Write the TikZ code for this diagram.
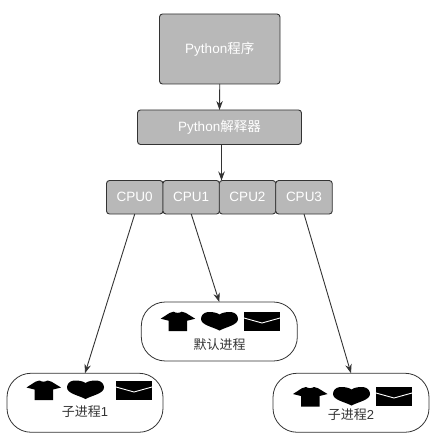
\documentclass[tikz,border=0pt]{standalone}
\usepackage{fontspec}
\setmainfont{Liberation Sans}
\newfontfamily\cjkf{Noto Sans CJK SC}
\usetikzlibrary{arrows.meta}
\definecolor{boxfill}{HTML}{B8B8B8}
\definecolor{edge}{HTML}{333333}
\tikzset{
  graybox/.style={draw=edge,fill=boxfill,line width=0.9pt,rounded corners=3pt,inner sep=0pt,outer sep=0pt,text=white,font=\fontsize{13.5}{15}\selectfont,anchor=center},
  procbox/.style={draw=edge,fill=white,line width=0.8pt,rounded corners=24pt,inner sep=0pt,outer sep=0pt,minimum width=156pt,minimum height=59pt},
  proclabel/.style={text=edge,font=\fontsize{13}{15}\selectfont,inner sep=0pt},
  link/.style={draw=edge,line width=0.9pt,-{Stealth[length=9pt,width=6.5pt]}},
  shirt/.pic={\fill[black] (0,7) -- (9,1.2) -- (13,0) .. controls (15,1.5) and (19,1.5) .. (21,0) -- (25,1.2) -- (34.5,7) -- (26.5,9) -- (26.5,19.5) -- (8,19.5) -- (8,9) -- cycle;},
  heartshape/.pic={\fill[black] (18.5,2.5) .. controls (22,0) and (27,0) .. (30,0) .. controls (35,0.5) and (37,4) .. (37,7) .. controls (37,13) and (25,15) .. (18.5,18.5) .. controls (12,15) and (0,13) .. (0,7) .. controls (0,4) and (2,0.5) .. (7,0) .. controls (10,0) and (15,0) .. (18.5,2.5) -- cycle;},
  mailshape/.pic={\fill[black] (0,0) rectangle (36,19); \draw[white,line width=0.9pt] (0,6) -- (18,11) -- (36,6);}
}
\begin{document}
\begin{tikzpicture}[x=1pt,y=-1pt]
\useasboundingbox (0,0) rectangle (441,446);
\node[graybox,minimum width=120.5pt,minimum height=70pt] (prog) at (219.75,49) {Python{\cjkf 程序}};
\node[graybox,minimum width=164pt,minimum height=34.5pt] (interp) at (219.5,127.25) {Python{\cjkf 解释器}};
\node[graybox,minimum width=56.5pt,minimum height=33.5pt] (cpu0) at (134.75,197.25) {CPU0};
\node[graybox,minimum width=56.5pt,minimum height=33.5pt] (cpu1) at (191.25,197.25) {CPU1};
\node[graybox,minimum width=56.5pt,minimum height=33.5pt] (cpu2) at (247.5,197.25) {CPU2};
\node[graybox,minimum width=56.5pt,minimum height=33.5pt] (cpu3) at (304,197.25) {CPU3};
\node[procbox] (def) at (219.3,331.5) {};
\node[procbox] (c1) at (85,402.75) {};
\node[procbox] (c2) at (351,402.75) {};
\node[proclabel] (deflabel) at (219.5,344.5) {\cjkf 默认进程};
\node[proclabel] (c1label) at (85,412) {{\cjkf 子进程}1};
\node[proclabel] (c2label) at (351,415) {{\cjkf 子进程}2};
\draw[link] (prog.south) -- (interp.north);
\draw[link] ([xshift=2pt]interp.south) -- ([xshift=2pt]interp.south |- cpu1.north);
\draw[link] (cpu0.south) -- (c1.north);
\draw[link] (cpu1.south) -- (def.north);
\draw[link] (cpu3.south) -- (c2.north);
\pic at (160.7,311.7) {shirt};
\pic at (201,312) {heartshape};
\pic at (244,312) {mailshape};
\pic at (26.5,380.5) {shirt};
\pic at (67,380.5) {heartshape};
\pic at (116,381) {mailshape};
\pic at (293,387) {shirt};
\pic at (333,387) {heartshape};
\pic at (376,387) {mailshape};
\end{tikzpicture}
\end{document}
